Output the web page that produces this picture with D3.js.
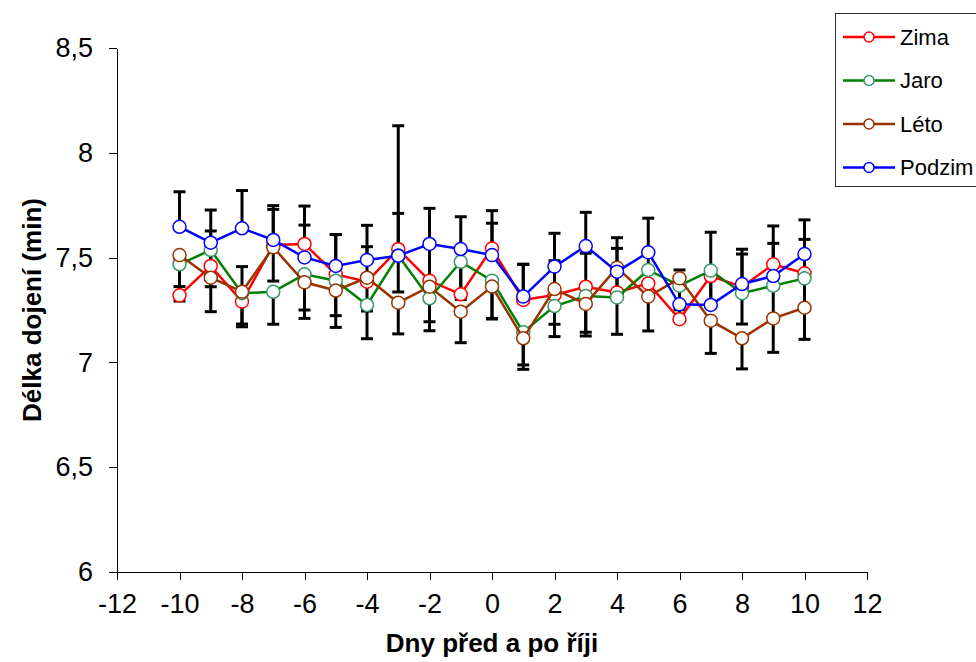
<!DOCTYPE html>
<html>
<head>
<meta charset="utf-8">
<script src="https://cdn.jsdelivr.net/npm/d3@7"></script>
<style>
  body { margin: 0; background: #fff; }
  svg { font-family: Arial, "Liberation Sans", sans-serif; }
  .axis path, .axis line { stroke: #000; shape-rendering: crispEdges; }
  .axis text { font-size: 27px; fill: #000; font-family: Arial, "Liberation Sans", sans-serif; }
  .title { font-size: 26px; font-weight: bold; }
</style>
</head>
<body>
<svg id="chart" width="976" height="662"></svg>
<script>
// Data: days before and after heat
var days = [-10, -9, -8, -7, -6, -5, -4, -3, -2, -1, 0, 1, 2, 3, 4, 5, 6, 7, 8, 9, 10];

var zima   = [7.32, 7.46, 7.29, 7.56, 7.565, 7.42, 7.385, 7.54, 7.39, 7.325, 7.544, 7.298, 7.322, 7.361, 7.334, 7.377, 7.206, 7.412, 7.36, 7.468, 7.425];
var jaro   = [7.468, 7.536, 7.33, 7.337, 7.42, 7.39, 7.274, 7.51, 7.306, 7.48, 7.39, 7.144, 7.269, 7.317, 7.31, 7.441, 7.366, 7.438, 7.33, 7.366, 7.401];
var leto   = [7.512, 7.404, 7.337, 7.549, 7.382, 7.343, 7.404, 7.285, 7.361, 7.242, 7.362, 7.115, 7.35, 7.279, 7.452, 7.314, 7.401, 7.199, 7.115, 7.21, 7.261];
var podzim = [7.647, 7.571, 7.64, 7.584, 7.501, 7.46, 7.489, 7.509, 7.565, 7.541, 7.512, 7.314, 7.457, 7.555, 7.433, 7.525, 7.277, 7.274, 7.374, 7.412, 7.517];

// Error bar sizes (Zima, Podzim shown upward; Jaro, Léto shown downward)
var zimaErr   = [0.17, 0.167, 0.167, 0.17, 0.181, 0.19, 0.167, 0.589, 0.17, 0.16, 0.18, 0.17, 0.163, 0.16, 0.21, 0.15, 0.16, 0.209, 0.157, 0.183, 0.162];
var jaroErr   = [0.175, 0.175, 0.16, 0.155, 0.17, 0.167, 0.161, 0.174, 0.155, 0.18, 0.18, 0.156, 0.146, 0.173, 0.176, 0.13, 0.1, 0.16, 0.147, 0.16, 0.15];
var letoErr   = [0.15, 0.162, 0.154, 0.161, 0.172, 0.176, 0.159, 0.149, 0.167, 0.148, 0.155, 0.148, 0.168, 0.153, 0.15, 0.164, 0.15, 0.156, 0.146, 0.162, 0.151];
var podzimErr = [0.167, 0.156, 0.18, 0.164, 0.154, 0.15, 0.165, 0.202, 0.17, 0.154, 0.152, 0.154, 0.159, 0.161, 0.162, 0.163, 0.164, 0.16, 0.166, 0.156, 0.163];

var xTicks = [-12, -10, -8, -6, -4, -2, 0, 2, 4, 6, 8, 10, 12];
var yTicks = [6, 6.5, 7, 7.5, 8, 8.5];

var series = [
    { name: "Zima",   values: zima,   err: zimaErr,   dir: 1,  line: "#ff0000", marker: "#ff0000" },
    { name: "Jaro",   values: jaro,   err: jaroErr,   dir: -1, line: "#008000", marker: "#339966" },
    { name: "Léto",   values: leto,   err: letoErr,   dir: -1, line: "#993300", marker: "#993300" },
    { name: "Podzim", values: podzim, err: podzimErr, dir: 1,  line: "#0000ff", marker: "#0000ff" }
];

var svg = d3.select("#chart");

// Scales
var x = d3.scaleLinear().domain([-12, 12]).range([117, 867]);
var y = d3.scaleLinear().domain([6, 8.5]).range([572, 48]);

// Czech number format: comma decimals, plain hyphen for negatives
var fmt = function(d) { return String(d).replace(".", ","); };

// Axes
svg.append("g")
    .attr("class", "axis")
    .attr("transform", "translate(0," + y(6) + ")")
    .call(d3.axisBottom(x).tickValues(xTicks).tickFormat(fmt).tickSize(8).tickSizeOuter(0).tickPadding(14))
    .selectAll("text").attr("dy", "0.71em");

svg.append("g")
    .attr("class", "axis")
    .attr("transform", "translate(" + x(-12) + ",0)")
    .call(d3.axisLeft(y).tickValues(yTicks).tickFormat(fmt).tickSize(8).tickSizeOuter(0).tickPadding(16));

svg.selectAll(".axis .domain").attr("stroke-width", 1);

// Axis titles
svg.append("text")
    .attr("class", "title")
    .attr("x", x(0))
    .attr("y", 652)
    .attr("text-anchor", "middle")
    .text("Dny před a po říji");

svg.append("text")
    .attr("class", "title")
    .attr("transform", "translate(41," + y(7.25) + ") rotate(-90)")
    .attr("text-anchor", "middle")
    .text("Délka dojení (min)");

// Error bars (behind the lines)
var bars = svg.append("g").attr("class", "errors");
series.forEach(function(s) {
    days.forEach(function(d, i) {
        var v0 = s.values[i], v1 = v0 + s.dir * s.err[i];
        bars.append("line")
            .attr("x1", x(d)).attr("x2", x(d))
            .attr("y1", y(v0)).attr("y2", y(v1))
            .attr("stroke", "#000").attr("stroke-width", 3);
        bars.append("line")
            .attr("x1", x(d) - 6).attr("x2", x(d) + 6)
            .attr("y1", y(v1)).attr("y2", y(v1))
            .attr("stroke", "#000").attr("stroke-width", 3);
    });
});

// Lines and markers
var line = d3.line()
    .x(function(d, i) { return x(days[i]); })
    .y(function(d) { return y(d); });

series.forEach(function(s) {
    var g = svg.append("g");
    g.append("path")
        .datum(s.values)
        .attr("d", line)
        .attr("fill", "none")
        .attr("stroke", s.line)
        .attr("stroke-width", 2.5);
    g.selectAll("circle")
        .data(s.values)
        .enter().append("circle")
        .attr("cx", function(d, i) { return x(days[i]); })
        .attr("cy", function(d) { return y(d); })
        .attr("r", 6.5)
        .attr("fill", "#fff")
        .attr("stroke", s.marker)
        .attr("stroke-width", 1.5);
});

// Legend
var legend = svg.append("g").attr("transform", "translate(835,13)");
legend.append("rect")
    .attr("x", 0.5).attr("y", 0.5)
    .attr("width", 160).attr("height", 173)
    .attr("fill", "#fff")
    .attr("stroke", "#333");

series.forEach(function(s, i) {
    var ly = 24 + i * 43.5;
    legend.append("line")
        .attr("x1", 8).attr("x2", 60)
        .attr("y1", ly).attr("y2", ly)
        .attr("stroke", s.line).attr("stroke-width", 2.5);
    legend.append("circle")
        .attr("cx", 34).attr("cy", ly).attr("r", 5)
        .attr("fill", "#fff").attr("stroke", s.marker).attr("stroke-width", 1.5);
    legend.append("text")
        .attr("x", 65).attr("y", ly)
        .attr("dy", "0.35em")
        .style("font-size", "22px")
        .text(s.name);
});
</script>
</body>
</html>
